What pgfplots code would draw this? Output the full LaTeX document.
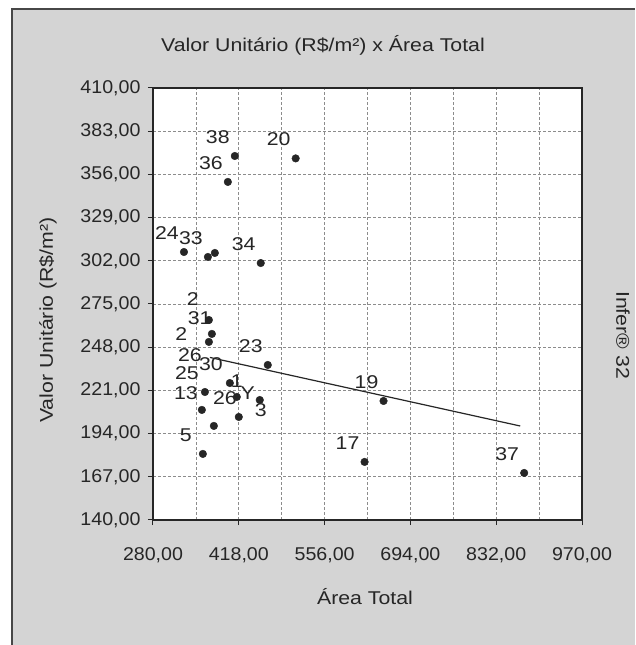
\documentclass[border=0pt]{standalone}
\usepackage{pgfplots}
\pgfplotsset{compat=1.18}
\usepackage{pgfplotstable}
\usepackage{fontspec}
\setmainfont[FakeStretch=1.06]{Liberation Sans}
\newfontfamily\widefont[FakeStretch=1.15]{Liberation Sans}
\definecolor{panel}{RGB}{212,212,212}
\definecolor{ink}{RGB}{38,38,38}
\newcommand\cf{\fontsize{18.5}{22}\selectfont}
\newcommand\wf{\widefont\fontsize{18.5}{22}\selectfont}

% labelled observations: area, unit value, id
\pgfplotstableread{
x      y      id
411.6  367.5  38
509.5  366.0  20
400.4  351.3  36
329.8  307.5  24
368.3  304.4  33
453.3  300.6  34
464.6  236.9  23
650.8  214.4  19
620.3  176.3  17
877.0  169.4  37
360.2  181.3  5
}\labelled

% observations inside the crowded cluster
\pgfplotstableread{
x      y
379.5  306.9
369.9  265.0
374.7  256.3
369.9  251.3
403.6  225.6
414.8  216.9
451.7  215.0
363.5  220.0
358.6  208.8
377.9  198.8
418.0  204.4
}\cluster

\begin{document}
\begin{tikzpicture}[x=1pt,y=1pt,font=\cf]
\useasboundingbox (-153,-125) rectangle (482,520);
\fill[white] (-153,-125) rectangle (482,520);
\fill[panel] (-141,-125) rectangle (482,511);
\draw[ink!85,line width=2pt] (-141,-125) -- (-141,511) -- (482,511);

\begin{axis}[
  at={(0,0)}, anchor=south west,
  scale only axis, width=429pt, height=432pt,
  xmin=280, xmax=970, ymin=140, ymax=410,
  xtick={280,418,556,694,832,970},
  xticklabels={{280,00},{418,00},{556,00},{694,00},{832,00},{970,00}},
  ytick={140,167,194,221,248,275,302,329,356,383,410},
  yticklabels={{140,00},{167,00},{194,00},{221,00},{248,00},{275,00},{302,00},{329,00},{356,00},{383,00},{410,00}},
  minor x tick num=1,
  xmajorgrids, xminorgrids, ymajorgrids,
  grid style={densely dashed, black!45, line width=0.6pt},
  minor grid style={densely dashed, black!45, line width=0.6pt},
  tick align=outside, major tick length=5pt, minor tick length=0pt,
  xtick pos=left, ytick pos=left,
  axis line style={ink, line width=1.3pt},
  tick style={ink, line width=1pt},
  axis background/.style={fill=white},
  tick label style={font=\cf, text=ink},
  xticklabel style={yshift=-19pt},
  yticklabel style={xshift=-4pt},
]
% fitted trend
\addplot[ink, line width=1.2pt] coordinates {(371.5,241.6) (870.6,198.75)};

\addplot[only marks, mark=*, mark size=3.8pt, ink] table {\cluster};

\addplot[only marks, mark=*, mark size=3.8pt, ink,
  nodes near coords, point meta=explicit symbolic,
  every node near coord/.style={anchor=center, xshift=-17pt, yshift=19pt,
    font=\wf, text=ink, inner sep=0pt}]
  table[meta=id] {\labelled};

% ids written over the crowded cluster
\begin{scope}[every node/.style={font=\wf, text=ink, inner sep=0pt}]
\node at (axis cs:344.2,278.0) {2};
\node at (axis cs:355.0,266.0) {31};
\node at (axis cs:325.5,256.0) {2};
\node at (axis cs:339.4,243.1) {26};
\node at (axis cs:373.1,237.5) {30};
\node at (axis cs:334.6,231.5) {25};
\node at (axis cs:333.0,219.0) {13};
\node at (axis cs:395.6,216.3) {26};
\node at (axis cs:414.8,226.9) {1};
\node at (axis cs:432.5,219.4) {Y};
\node at (axis cs:453.3,208.8) {3};
\end{scope}
\end{axis}

\node[text=ink, font=\wf] at (170,475) {Valor Unitário (R\$/m²) x Área Total};
\node[text=ink, font=\wf, rotate=90] at (-105,200) {Valor Unitário (R\$/m²)};
\node[text=ink, font=\wf] at (212,-77) {Área Total};
\node[text=ink, font=\wf, rotate=-90] at (470,185) {Infer® 32};
\end{tikzpicture}
\end{document}
